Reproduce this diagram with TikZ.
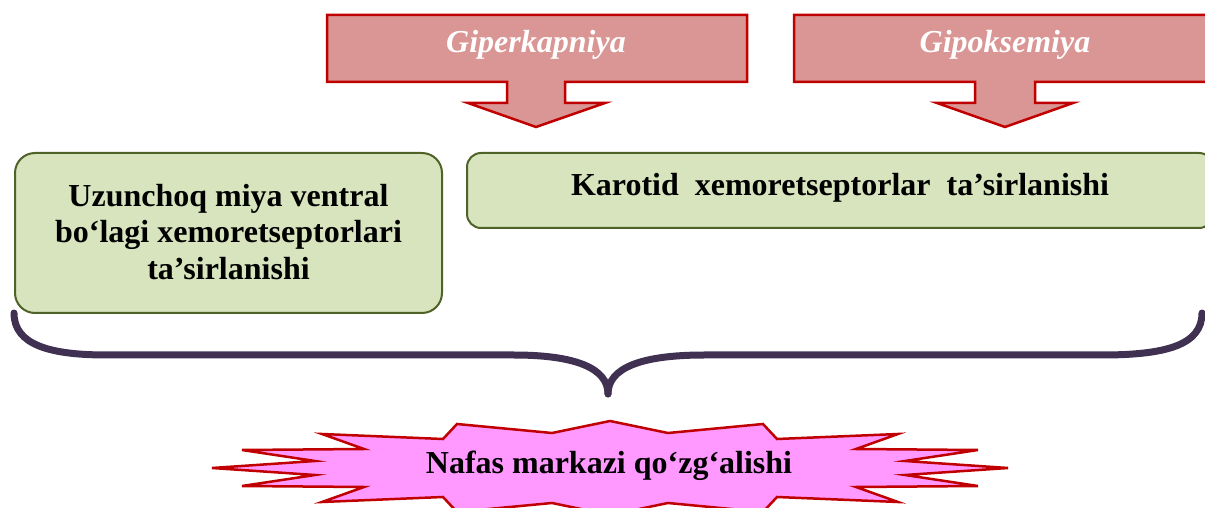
\documentclass[tikz,border=0pt]{standalone}
\usepackage{fontspec}
\setmainfont{Liberation Serif}
\definecolor{arrowfill}{HTML}{D99694}
\definecolor{darkred}{HTML}{C00000}
\definecolor{boxfill}{HTML}{D7E4BD}
\definecolor{boxdraw}{HTML}{4F6228}
\definecolor{bracecol}{HTML}{403152}
\definecolor{starfill}{HTML}{FF99FF}
\tikzset{
  bigarrow/.style={fill=arrowfill, draw=darkred, line width=2.5bp, line join=miter},
  arrowtext/.style={text=white, font=\fontsize{32bp}{36bp}\selectfont\bfseries\itshape, inner sep=0pt},
  greenbox/.style={fill=boxfill, draw=boxdraw, line width=2bp, rounded corners=20bp},
  boxtext/.style={font=\fontsize{32bp}{36.5bp}\selectfont\bfseries, align=center, inner sep=0pt},
  bracestyle/.style={draw=bracecol, line width=7bp, line cap=round, line join=round},
  starstyle/.style={fill=starfill, draw=darkred, line width=2.5bp, line join=miter},
}
\begin{document}
\begin{tikzpicture}[x=1bp, y=-1bp]
\useasboundingbox (0,0) rectangle (1205,508);
\clip (0,0) rectangle (1205,508);

% top arrows
\draw[bigarrow] (327,15) -- (747,15) -- (747,82) -- (565,82) -- (565,103) -- (605,103)
  -- (536,127) -- (468,103) -- (507,103) -- (507,82) -- (327,82) -- cycle;
\node[arrowtext] (giper) at (536,45) {Giperkapniya};

\draw[bigarrow] (794,15) -- (1216,15) -- (1216,82) -- (1035,82) -- (1035,103) -- (1073,103)
  -- (1005,127) -- (937,103) -- (975,103) -- (975,82) -- (794,82) -- cycle;
\node[arrowtext] (gipok) at (1005,45) {Gipoksemiya};

% green boxes
\draw[greenbox] (15,153) rectangle (442,313);
\node[boxtext] (uzun) at (228.5,232) {Uzunchoq miya ventral\\bo‘lagi xemoretseptorlari\\ta’sirlanishi};

\draw[greenbox, rounded corners=14bp] (467,153) rectangle (1213,228);
\node[boxtext] (karo) at (840,188) {Karotid\ \ xemoretseptorlar\ \ ta’sirlanishi};

% brace
\coordinate (bl) at (14,313);
\coordinate (btip) at (608,394);
\coordinate (br) at (1202,313);
\draw[bracestyle] (bl) .. controls (14,345) and (50,355) .. (107,355) -- (514,355)
  .. controls (575,355) and (608,368) .. (btip);
\draw[bracestyle] (btip) .. controls (608,368) and (641,355) .. (704,355) -- (1102,355)
  .. controls (1166,355) and (1202,345) .. (br);

% star
\begin{scope}[shift={(610,468)}]
\draw[starstyle] (-398,0) -- (-295,-7) -- (-368,-18) -- (-246,-19) -- (-288,-34) -- (-167,-29)
  -- (-153,-44) -- (-58,-35) -- (0,-47) -- (58,-35) -- (153,-44) -- (167,-29) -- (288,-34)
  -- (246,-19) -- (368,-18) -- (295,-7) -- (398,0) -- (295,7) -- (368,18) -- (246,19)
  -- (288,34) -- (167,29) -- (153,44) -- (58,35) -- (0,47) -- (-58,35) -- (-153,44)
  -- (-167,29) -- (-288,34) -- (-246,19) -- (-368,18) -- (-295,7) -- cycle;
\end{scope}
\node[boxtext] (nafas) at (609,466) {Nafas markazi qo‘zg‘alishi};
\end{tikzpicture}
\end{document}
